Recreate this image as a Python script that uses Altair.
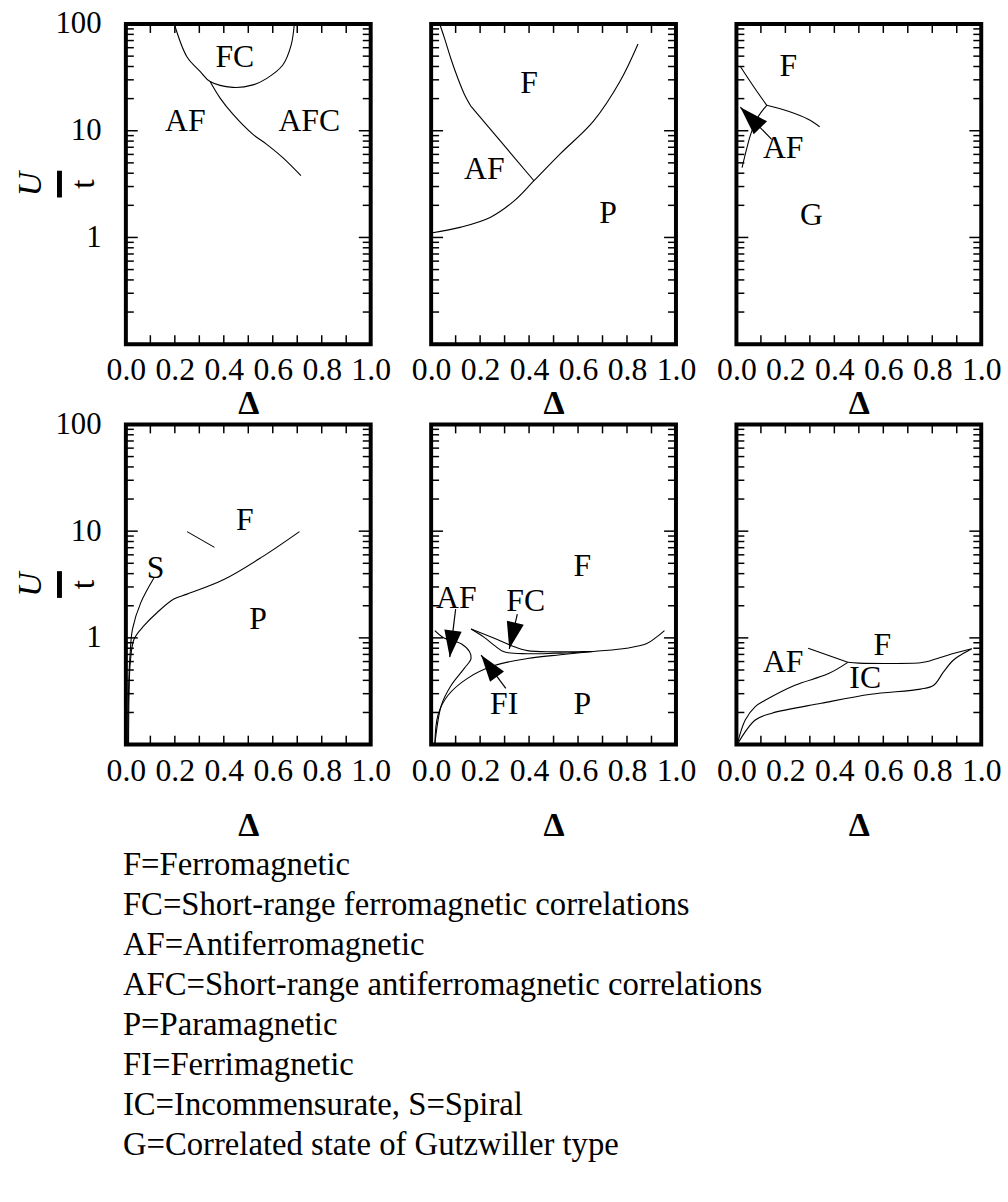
import math
import altair as alt
import pandas as pd

W, H = 247, 323
FONT = "Liberation Serif, Times New Roman, serif"

# ---------------- axis tick values ----------------
delta_major = [0.0, 0.2, 0.4, 0.6, 0.8, 1.0]
delta_minor = [0.1, 0.3, 0.5, 0.7, 0.9]
u_labels = [1, 10, 100]
u_major = [1, 10, 100]
u_minor = [0.2, 0.3, 0.4, 0.5, 0.6, 0.7, 0.8, 0.9,
           2, 3, 4, 5, 6, 7, 8, 9,
           20, 30, 40, 50, 60, 70, 80, 90]

# ---------------- panel (a) ----------------
a_fc = [(0.198, 100), (0.25, 49), (0.304, 35.8), (0.344, 28.9), (0.437, 25.5),
        (0.519, 26.9), (0.574, 30.8), (0.641, 41.3), (0.675, 63.4), (0.688, 100)]
a_af = [(0.344, 28.9), (0.385, 20.2), (0.437, 14.3), (0.519, 9.25), (0.574, 7.5),
        (0.641, 5.6), (0.715, 3.8)]
a_labels = [("FC", 0.445, 49), ("AF", 0.243, 12.3), ("AFC", 0.749, 12.3)]

# ---------------- panel (b) ----------------
b_upper = [(0.035, 100), (0.055, 73), (0.081, 47), (0.109, 31), (0.136, 21.9), (0.163, 16.9)]
b_mid = [(0.163, 16.9), (0.42, 3.4)]
b_lower = [(0.0, 1.1), (0.122, 1.25), (0.243, 1.55), (0.339, 2.2), (0.42, 3.4),
           (0.528, 6.1), (0.663, 12.3), (0.771, 28.9), (0.845, 65)]
b_labels = [("F", 0.40, 27.7), ("AF", 0.217, 4.4), ("P", 0.723, 1.68)]

# ---------------- panel (c) ----------------
c_left = [(0.016, 40), (0.07, 26), (0.124, 17.3)]
c_right = [(0.124, 17.3), (0.212, 15.2), (0.293, 12.8), (0.340, 10.9)]
c_down = [(0.124, 17.3), (0.09, 13.7), (0.06, 9.5), (0.043, 6.95), (0.023, 4.5)]
c_arrows = [(0.144, 8.3, 0.016, 16.6)]  # tail delta, tail U, tip delta, tip U
c_labels = [("F", 0.212, 40), ("AF", 0.191, 6.9), ("G", 0.306, 1.61)]

# ---------------- panel (d) ----------------
d_fp = [(0.011, 0.1), (0.013, 0.3), (0.018, 0.59), (0.034, 0.98), (0.074, 1.30),
        (0.128, 1.73), (0.196, 2.31), (0.25, 2.57), (0.398, 3.5), (0.56, 5.8), (0.709, 9.9)]
d_s = [(0.008, 0.1), (0.012, 0.4), (0.018, 0.75), (0.027, 1.21), (0.061, 2.14), (0.115, 3.66)]
d_seg = [(0.25, 9.9), (0.362, 7.05)]
d_labels = [("F", 0.486, 12.7), ("S", 0.121, 4.5), ("P", 0.54, 1.5)]

# ---------------- panel (e) ----------------
e_af = [(0.015, 1.17), (0.049, 1.01), (0.123, 0.88), (0.157, 0.74), (0.163, 0.64),
        (0.136, 0.52), (0.082, 0.36), (0.042, 0.235), (0.015, 0.1)]
e_fi = [(0.015, 0.1), (0.028, 0.19), (0.069, 0.29), (0.15, 0.42), (0.258, 0.55),
        (0.393, 0.64), (0.528, 0.695), (0.663, 0.746), (0.798, 0.80), (0.879, 0.88),
        (0.919, 1.01), (0.953, 1.17)]
e_fc_up = [(0.163, 1.21), (0.258, 0.99), (0.326, 0.85), (0.393, 0.76), (0.50, 0.74),
           (0.60, 0.742), (0.663, 0.746)]
e_fc_low = [(0.163, 1.21), (0.217, 1.01), (0.258, 0.85), (0.298, 0.74), (0.393, 0.71),
            (0.528, 0.72), (0.663, 0.746)]
e_arrows = [(0.100, 1.86, 0.076, 0.66), (0.352, 1.67, 0.319, 0.79), (0.305, 0.336, 0.204, 0.69)]
e_labels = [("AF", 0.103, 2.38), ("FC", 0.386, 2.22), ("F", 0.617, 4.7),
            ("FI", 0.298, 0.24), ("P", 0.617, 0.24)]

# ---------------- panel (f) ----------------
f_aff = [(0.293, 0.80), (0.455, 0.59)]
f_fic = [(0.455, 0.59), (0.50, 0.58), (0.752, 0.585), (0.779, 0.60), (0.86, 0.685), (0.961, 0.79)]
f_afic = [(0.003, 0.1), (0.036, 0.17), (0.077, 0.227), (0.117, 0.26), (0.239, 0.36),
          (0.374, 0.46), (0.455, 0.59)]
f_icb = [(0.003, 0.1), (0.077, 0.17), (0.145, 0.197), (0.347, 0.244), (0.549, 0.296),
         (0.752, 0.331), (0.806, 0.36), (0.846, 0.48), (0.887, 0.62), (0.961, 0.79)]
f_labels = [("F", 0.596, 0.85), ("AF", 0.191, 0.59), ("IC", 0.526, 0.42)]

# ---------------- texts ----------------
x_title = "Δ"
y_title_num = "U"
y_title_den = "t"
legend_lines = [
    "F=Ferromagnetic",
    "FC=Short-range ferromagnetic correlations",
    "AF=Antiferromagnetic",
    "AFC=Short-range antiferromagnetic correlations",
    "P=Paramagnetic",
    "FI=Ferrimagnetic",
    "IC=Incommensurate, S=Spiral",
    "G=Correlated state of Gutzwiller type",
]

ARROW = "M0,0 L-0.65,2 L0.65,2 Z"


def make_panel(curves, labels, arrows=None, head_size=729, ylabels=False, title_pad=0):
    xs = alt.Scale(domain=[0, 1], nice=False, zero=False)
    ys = alt.Scale(type="log", domain=[0.1, 100], nice=False)
    xaxis = alt.Axis(values=delta_major, format=".1f", title=x_title, domain=False,
                     ticks=False, tickSize=0, grid=False, labelFont=FONT, labelFontSize=32,
                     labelPadding=11, labelFlush=False, labelOverlap=False, labelColor="black",
                     titleFont=FONT, titleFontSize=34, titleFontWeight="bold",
                     titlePadding=title_pad, titleColor="black")
    if ylabels:
        yaxis = alt.Axis(values=u_labels, format="d", title=" ", domain=False, ticks=False,
                         tickSize=0, grid=False, labelFont=FONT, labelFontSize=31,
                         labelPadding=25, labelColor="black", labelOverlap=False,
                         labelFlush=False)
    else:
        yaxis = None

    def X(f):
        return alt.X(f, scale=xs, axis=xaxis)

    def Y(f):
        return alt.Y(f, scale=ys, axis=yaxis)

    rows = []
    for name, pts in curves.items():
        for k, (d, u) in enumerate(pts):
            rows.append({"curve": name, "k": k, "d": d, "u": u})
    line_df = pd.DataFrame(rows)
    lines = alt.Chart(line_df).mark_line(color="black", strokeWidth=1.1,
                                         interpolate="catmull-rom").encode(
        x=X("d:Q"), y=Y("u:Q"), detail="curve:N", order="k:Q")

    xt = pd.DataFrame({"v": delta_major + delta_minor})
    xt_bot = alt.Chart(xt).mark_rule(color="black", strokeWidth=1.5).encode(
        x=X("v:Q"), y=alt.value(H), y2=alt.value(H - 9))
    xt_top = alt.Chart(xt).mark_rule(color="black", strokeWidth=1.5).encode(
        x=X("v:Q"), y=alt.value(0), y2=alt.value(9))
    ym = pd.DataFrame({"v": u_major})
    yn = pd.DataFrame({"v": u_minor})
    yl_maj = alt.Chart(ym).mark_rule(color="black", strokeWidth=1.5).encode(
        y=Y("v:Q"), x=alt.value(0), x2=alt.value(12))
    yr_maj = alt.Chart(ym).mark_rule(color="black", strokeWidth=1.5).encode(
        y=Y("v:Q"), x=alt.value(W), x2=alt.value(W - 12))
    yl_min = alt.Chart(yn).mark_rule(color="black", strokeWidth=1.5).encode(
        y=Y("v:Q"), x=alt.value(0), x2=alt.value(8))
    yr_min = alt.Chart(yn).mark_rule(color="black", strokeWidth=1.5).encode(
        y=Y("v:Q"), x=alt.value(W), x2=alt.value(W - 8))

    lab_df = pd.DataFrame([{"t": t, "d": d, "u": u} for t, d, u in labels])
    texts = alt.Chart(lab_df).mark_text(font=FONT, fontSize=32, color="black").encode(
        x=X("d:Q"), y=Y("u:Q"), text="t:N")

    layers = [lines, xt_bot, xt_top, yl_maj, yr_maj, yl_min, yr_min]

    if arrows:
        arows = []
        for td, tu, hd, hu in arrows:
            tx, ty = td * W, H * (2 - math.log10(tu)) / 3
            hx, hy = hd * W, H * (2 - math.log10(hu)) / 3
            ang = math.degrees(math.atan2(hx - tx, -(hy - ty))) % 360
            arows.append({"td": td, "tu": tu, "hd": hd, "hu": hu, "ang": ang})
        adf = pd.DataFrame(arows)
        shafts = alt.Chart(adf).mark_rule(color="black", strokeWidth=1.2).encode(
            x=X("td:Q"), y=Y("tu:Q"), x2="hd:Q", y2="hu:Q")
        heads = alt.Chart(adf).mark_point(shape=ARROW, filled=True, color="black",
                                          opacity=1, size=head_size, strokeWidth=0).encode(
            x=X("hd:Q"), y=Y("hu:Q"), angle=alt.Angle("ang:Q", scale=None))
        layers += [shafts, heads]

    layers.append(texts)

    if ylabels:
        num = alt.Chart(pd.DataFrame({"t": [y_title_num]})).mark_text(
            font=FONT, fontSize=34, fontStyle="italic", angle=270, align="center",
            baseline="middle", color="black").encode(
            x=alt.value(-96), y=alt.value(H / 2), text="t:N")
        den = alt.Chart(pd.DataFrame({"t": [y_title_den]})).mark_text(
            font=FONT, fontSize=34, angle=270, align="center",
            baseline="middle", color="black").encode(
            x=alt.value(-42), y=alt.value(H / 2), text="t:N")
        bar = alt.Chart(pd.DataFrame({"t": [0]})).mark_rule(color="black", strokeWidth=5).encode(
            x=alt.value(-67), y=alt.value(H / 2 - 13.5), y2=alt.value(H / 2 + 13.5))
        layers += [num, bar, den]

    return alt.layer(*layers).properties(width=W, height=H)


pa = make_panel({"fc": a_fc, "af": a_af}, a_labels, ylabels=True, title_pad=1)
pb = make_panel({"up": b_upper, "mid": b_mid, "low": b_lower}, b_labels, title_pad=1)
pc = make_panel({"l": c_left, "r": c_right, "d": c_down}, c_labels, arrows=c_arrows,
                head_size=841, title_pad=1)
pd_ = make_panel({"fp": d_fp, "s": d_s, "seg": d_seg}, d_labels, ylabels=True, title_pad=23)
pe = make_panel({"af": e_af, "fi": e_fi, "fcu": e_fc_up, "fcl": e_fc_low}, e_labels,
                arrows=e_arrows, title_pad=23)
pf = make_panel({"a": f_aff, "b": f_fic, "c": f_afic, "d": f_icb}, f_labels, title_pad=23)

leg_df = pd.DataFrame({"i": list(range(len(legend_lines))), "t": legend_lines})
legend = alt.Chart(leg_df).mark_text(font=FONT, fontSize=33, align="left",
                                     baseline="alphabetic", color="black").encode(
    x=alt.value(-3),
    y=alt.Y("i:O", axis=None, scale=alt.Scale(type="point", range=[51, 333], padding=0)),
    text="t:N",
).properties(width=W, height=340, view=alt.ViewBackground(stroke="transparent"))

chart = alt.concat(pa, pb, pc, pd_, pe, pf, legend, columns=3,
                   spacing={"row": 81, "column": 61}, bounds="flush").configure_view(
    stroke="black", strokeWidth=4).properties(
    padding={"left": 12, "top": 1, "right": 5, "bottom": 5}, background="white")

chart.save("out.html", embed_options={"renderer": "svg", "actions": False})
